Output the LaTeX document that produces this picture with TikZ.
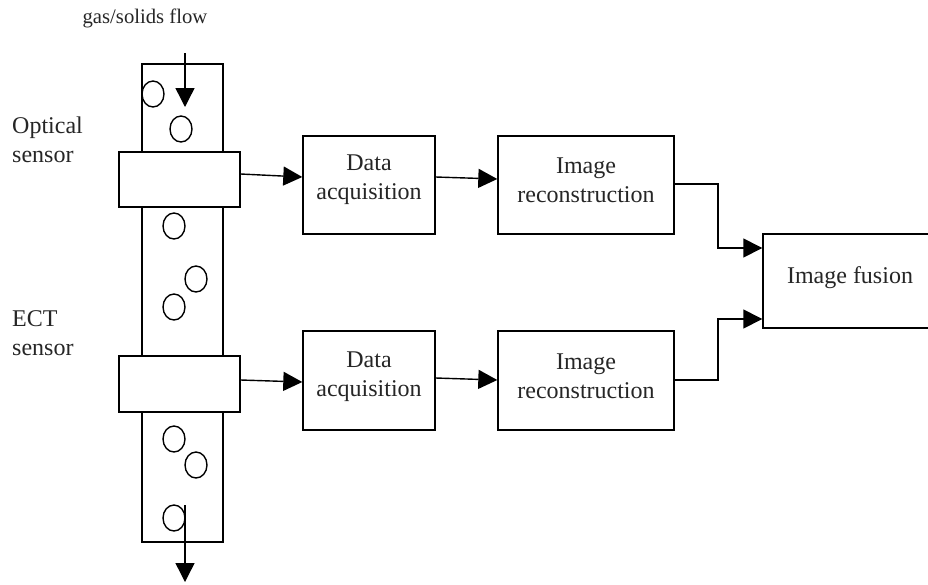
\documentclass[tikz,border=0pt]{standalone}
\usepackage{fontspec}
\setmainfont{Liberation Serif}
\usetikzlibrary{arrows.meta,shapes.geometric}
\begin{document}
\begin{tikzpicture}[x=1pt,y=-1pt,
  every node/.style={font=\fontsize{24}{29}\selectfont, text=black!85},
  ln/.style={line width=1.4pt},
  blk/.style={draw, ln, fill=white, inner sep=0pt},
  bubble/.style={draw, ln, ellipse, minimum width=22pt, minimum height=26pt, inner sep=0pt},
  flow/.style={ln, -{Triangle[length=19pt,width=19pt]}},
  lbl/.style={align=left, anchor=west, inner sep=0pt}]
\useasboundingbox (0,0) rectangle (928,584);
\clip (0,0) rectangle (928,584);

% flow label
\node[font=\fontsize{20.7}{25}\selectfont, inner sep=0pt] (flowlbl) at (145,18) {gas/solids flow};

% pipe
\node[draw, ln, minimum width=81pt, minimum height=478pt, inner sep=0pt] (pipe) at (182.5,303) {};

% bubbles in the pipe
\foreach \n/\px/\py in {b1/153/94, b2/181/129, b3/174/226, b4/196/279, b5/174/307, b6/174/439, b7/196/465, b8/174/518}
  \node[bubble] (\n) at (\px,\py) {};

% sensor rings round the pipe
\node[blk, minimum width=121pt, minimum height=55pt] (opt) at (179.5,179.5) {};
\node[blk, minimum width=121pt, minimum height=56pt] (ect) at (179.5,384) {};

% sensor labels
\node[lbl] (optlbl) at (12,140) {Optical\\sensor};
\node[lbl] (ectlbl) at (12,333) {ECT\\sensor};

% processing blocks
\node[blk, minimum width=132pt, minimum height=98pt,
  label={[align=center, yshift=5pt]center:Data\\acquisition}] (da1) at (369,185) {};
\node[blk, minimum width=176pt, minimum height=98pt,
  label={[align=center, yshift=5pt]center:Image\\reconstruction}] (ir1) at (586,185) {};
\node[blk, minimum width=132pt, minimum height=99pt,
  label={[align=center, yshift=4pt]center:Data\\acquisition}] (da2) at (369,380.5) {};
\node[blk, minimum width=176pt, minimum height=99pt,
  label={[align=center, yshift=4pt]center:Image\\reconstruction}] (ir2) at (586,380.5) {};
\node[blk, minimum width=180pt, minimum height=94pt,
  label={[yshift=3pt, xshift=-3pt]center:Image fusion}] (fus) at (853,281) {};

% flow direction through the pipe
\coordinate (inflow) at (185,53);
\coordinate (inhead) at (185,107);
\coordinate (outflow) at (185,505);
\coordinate (outhead) at (185,582);
\draw[flow] (inflow) -- (inhead);
\draw[flow] (outflow) -- (outhead);

% signal path
\draw[flow] (opt.east |- 0,174) -- (da1.west |- 0,177);
\draw[flow] (da1.east |- 0,177) -- (ir1.west |- 0,179);
\draw[flow] (ir1.east |- 0,184) -- (718,184) -- (718,248) -- (fus.west |- 0,248);

\draw[flow] (ect.east |- 0,380) -- (da2.west |- 0,382);
\draw[flow] (da2.east |- 0,378) -- (ir2.west |- 0,380);
\draw[flow] (ir2.east |- 0,380) -- (718,380) -- (718,319) -- (fus.west |- 0,319);
\end{tikzpicture}
\end{document}
